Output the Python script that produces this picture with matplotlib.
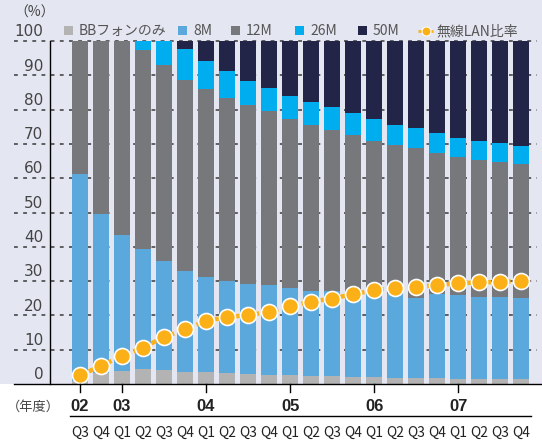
import matplotlib
matplotlib.use("Agg")
import matplotlib.pyplot as plt
from matplotlib.patches import Rectangle
from matplotlib.lines import Line2D

plt.rcParams['font.family'] = ['Noto Sans CJK JP', 'DejaVu Sans']

# --- data: share of subscribers by line speed (%) ---
quarters = ["Q3", "Q4",
            "Q1", "Q2", "Q3", "Q4",
            "Q1", "Q2", "Q3", "Q4",
            "Q1", "Q2", "Q3", "Q4",
            "Q1", "Q2", "Q3", "Q4",
            "Q1", "Q2", "Q3", "Q4"]
years = ["02", "03", "04", "05", "06", "07"]
year_start = [0, 2, 6, 10, 14, 18]   # index of the first quarter of each fiscal year

bb_only = [1.0, 3.3, 3.9, 4.5, 4.2, 3.6, 3.6, 3.3, 3.0, 2.7, 2.6,
           2.3, 2.3, 2.0, 2.0, 1.7, 1.7, 1.7, 1.5, 1.5, 1.5, 1.5]
m8 = [60.1, 46.4, 39.4, 35.0, 31.8, 29.4, 27.7, 26.8, 26.2, 26.2, 25.4,
      24.9, 24.7, 24.5, 24.8, 24.6, 23.5, 24.5, 24.4, 23.9, 23.9, 23.6]
m12 = [38.9, 50.3, 56.7, 57.9, 57.0, 55.6, 54.6, 53.2, 52.1, 50.6, 49.2,
       48.2, 47.1, 46.0, 44.0, 43.3, 43.6, 41.1, 40.2, 39.9, 39.3, 39.0]
m26 = [0.0, 0.0, 0.0, 2.6, 7.0, 9.1, 8.3, 7.9, 7.0, 6.8, 6.7,
       6.8, 6.6, 6.4, 6.4, 5.8, 5.8, 5.8, 5.5, 5.5, 5.5, 5.2]
m50 = [0.0, 0.0, 0.0, 0.0, 0.0, 2.3, 5.8, 8.8, 11.7, 13.7, 16.1,
       17.8, 19.3, 21.1, 22.8, 24.6, 25.4, 26.9, 28.4, 29.2, 29.8, 30.7]
wlan_ratio = [2.5, 5.3, 8.2, 10.6, 13.7, 15.9, 18.4, 19.5, 20.1, 21.0, 22.7,
              24.0, 24.9, 26.2, 27.3, 28.1, 28.4, 28.8, 29.4, 29.6, 29.8, 30.0]

series = [("BBフォンのみ", bb_only, "#b3b3b3"),
          ("8M", m8, "#5ba8dc"),
          ("12M", m12, "#77787c"),
          ("26M", m26, "#00adee"),
          ("50M", m50, "#222547")]
line_color = "#fbb017"
bg_color = "#e4e6f2"

W, H = 542, 442
fig = plt.figure(figsize=(W / 100, H / 100), dpi=100, facecolor="white")


def fx(px):
    return px / W


def fy(py):
    return 1 - py / H


# lavender panel behind everything above the x axis
fig.patches.append(Rectangle((0, fy(384)), 1, 384 / H, transform=fig.transFigure,
                             facecolor=bg_color, edgecolor="none", zorder=-10))

ax = fig.add_axes([fx(50), fy(384), fx(490), 343 / H])
ax.patch.set_alpha(0)
x = list(range(len(quarters)))
ax.set_xlim(-1.43, 21.9)
ax.set_ylim(0, 100)

# dotted gridlines, running out under the tick labels
ytr = ax.get_yaxis_transform()
for v in range(10, 101, 10):
    ax.plot([-0.0735, 0.994], [v, v], transform=ytr, clip_on=False,
            color="#3a3a3a", lw=1.1, ls=(0, (2.5, 3.5)), zorder=0)
for v in range(0, 101, 10):
    ax.text(-0.014, v + 2.7, str(v), transform=ytr, ha="right", va="center",
            fontsize=11, color="#444444", family="DejaVu Sans")

bottom = [0.0] * len(x)
for name, vals, col in series:
    ax.bar(x, vals, width=0.76, bottom=bottom, color=col, zorder=2, linewidth=0)
    bottom = [b + v for b, v in zip(bottom, vals)]

ax.plot(x, wlan_ratio, color=line_color, lw=3.2, ls=(0, (1.2, 1.0)), zorder=3)
ax.plot(x, wlan_ratio, ls="none", marker="o", ms=11.5, mfc=line_color,
        mec="white", mew=1.2, zorder=4)

for s in ["top", "right", "bottom"]:
    ax.spines[s].set_visible(False)
ax.spines["left"].set_color("black")
ax.spines["left"].set_linewidth(1.0)
ax.set_xticks([])
ax.set_yticks([])

# x axis line across the full width
fig.add_artist(Line2D([fx(14), fx(541)], [fy(384), fy(384)], color="black", lw=1.0))

# fiscal-year ticks and labels
for i, yr in zip(year_start, years):
    ax.plot([i, i], [0, -2.4], color="black", lw=1.0, clip_on=False, zorder=5)
    ax.text(i, -6.6, yr, ha="center", va="center", fontsize=12, fontweight="bold",
            family="Liberation Sans", color="#222222")
fig.add_artist(Line2D([fx(70), fx(531)], [fy(416), fy(416)], color="black", lw=1.0))
for i, q in enumerate(quarters):
    ax.text(i, -14.3, q, ha="center", va="center", fontsize=10,
            family=["Noto Sans CJK JP", "DejaVu Sans"], color="#222222")
fig.text(fx(33), fy(407), "（年度）", ha="center", va="center", fontsize=9.5, color="#444444")
fig.text(fx(35), fy(13), "（%）", ha="center", va="center", fontsize=10, color="#444444")

# legend row
leg_y = 31
for (name, vals, col), sx in zip(series, [64, 178, 231, 295, 358]):
    fig.patches.append(Rectangle((fx(sx), fy(leg_y + 4)), fx(8.5), 8.5 / H,
                                 transform=fig.transFigure, facecolor=col,
                                 edgecolor="none"))
    fig.text(fx(sx + 15), fy(leg_y), name, ha="left", va="center",
             fontsize=10, color="#555555")
fig.add_artist(Line2D([fx(418), fx(433)], [fy(leg_y), fy(leg_y)], color=line_color,
                      lw=2, ls=(0, (1.2, 1.0))))
fig.add_artist(Line2D([fx(425.5)], [fy(leg_y)], marker="o", ms=6.5, mfc=line_color,
                      mec="white", mew=0.8, ls="none"))
fig.text(fx(436), fy(leg_y), "無線LAN比率", ha="left", va="center", fontsize=10,
         color="#555555")

fig.savefig("out.png", dpi=100, facecolor="white")
